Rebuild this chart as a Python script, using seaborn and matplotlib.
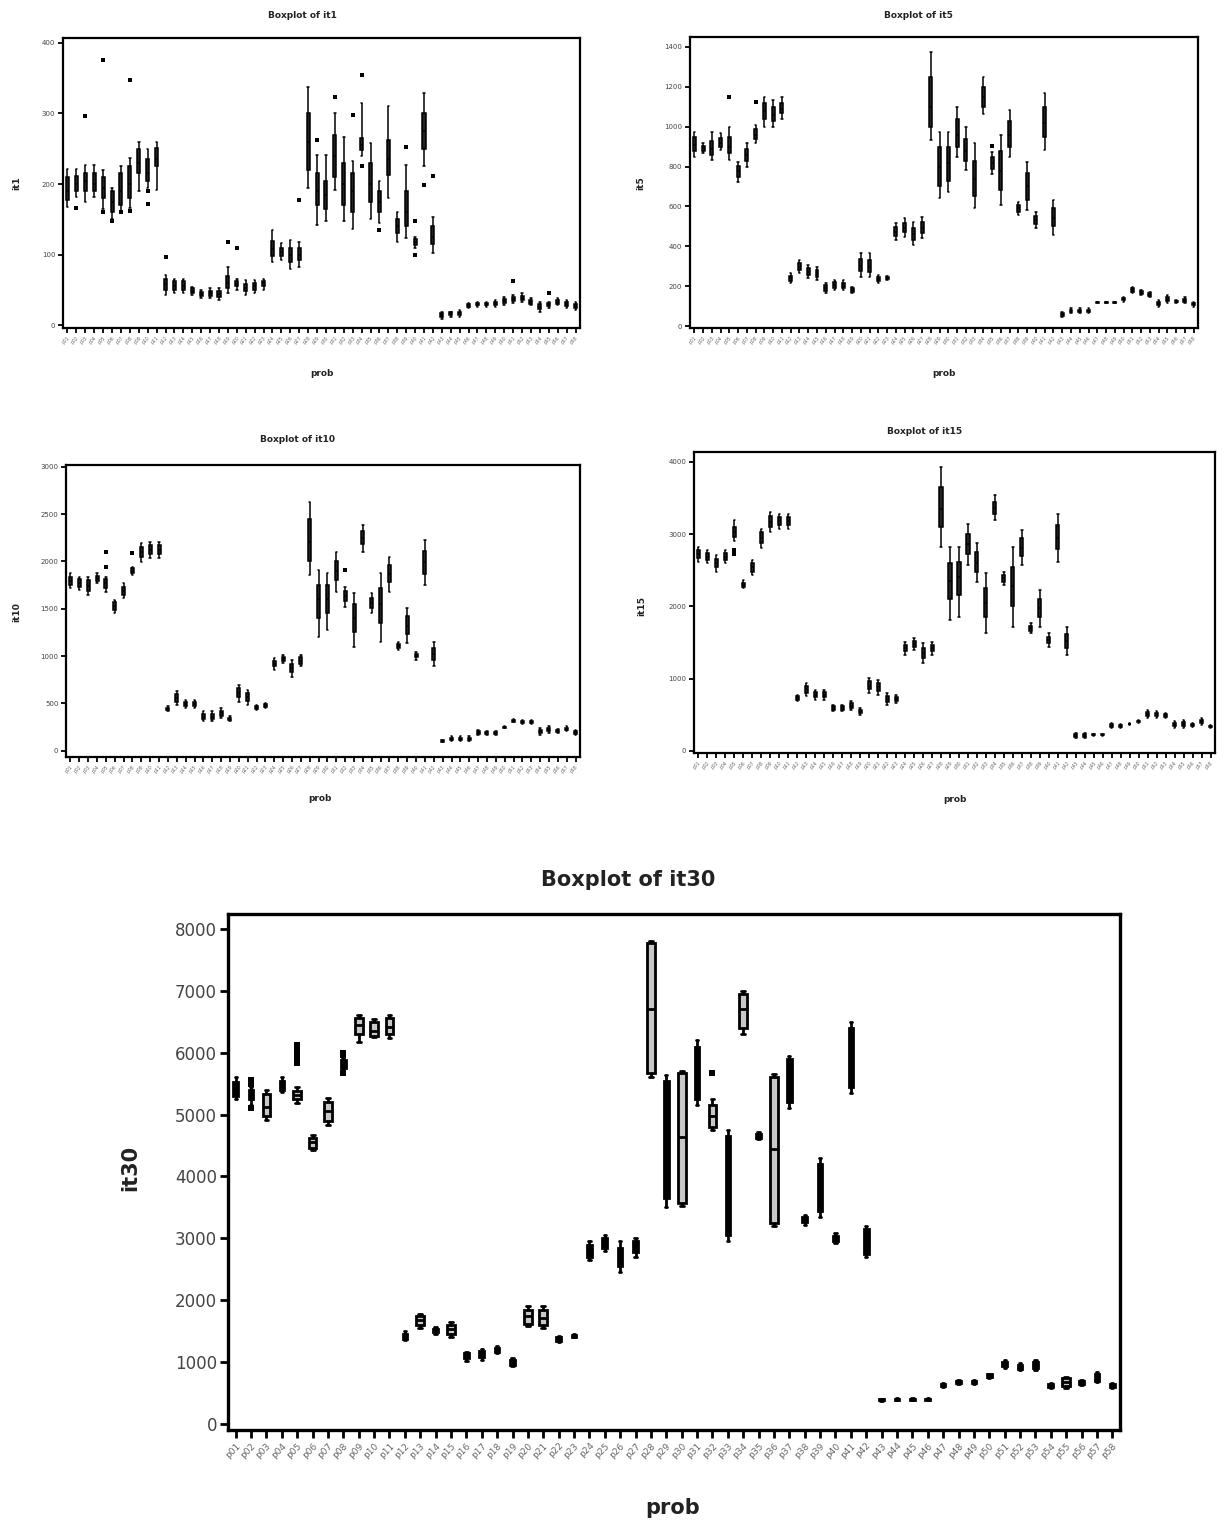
import matplotlib
matplotlib.use("Agg")
import matplotlib.pyplot as plt
import numpy as np
import pandas as pd
import seaborn as sns

sns.set_style("white")
plt.rcParams["font.family"] = ["DejaVu Sans"]

# ---------------- data ----------------
categories = [f"p{i:02d}" for i in range(1, 59)]

# five-number summaries per problem: (low, q1, median, q3, high)
it1_box = [
    (168, 177, 190, 210, 222), (182, 190, 200, 212, 222), (175, 190, 205, 215, 227), (182, 190, 200, 215, 227),
    (165, 180, 195, 210, 220), (150, 160, 175, 190, 195), (160, 170, 190, 215, 225), (166, 180, 200, 225, 237),
    (190, 215, 230, 250, 260), (195, 205, 215, 235, 250), (192, 225, 235, 251, 260), (43, 50, 58, 65, 71),
    (45, 50, 56, 62, 66), (45, 50, 55, 62, 66), (43, 46, 49, 52, 54), (38, 41, 44, 47, 50),
    (38, 41, 45, 49, 52), (36, 40, 44, 48, 52), (45, 52, 60, 70, 83), (50, 55, 58, 63, 66),
    (43, 48, 53, 58, 64), (45, 50, 55, 60, 64), (50, 55, 60, 62, 66), (90, 98, 108, 120, 135),
    (92, 98, 104, 110, 116), (80, 90, 100, 110, 121), (83, 92, 100, 110, 118), (194, 220, 260, 300, 338),
    (142, 170, 190, 215, 241), (147, 165, 185, 205, 241), (192, 210, 240, 270, 300), (147, 170, 200, 230, 267),
    (137, 160, 190, 215, 232), (240, 248, 255, 265, 315), (151, 175, 200, 230, 258), (145, 160, 175, 190, 204),
    (180, 213, 235, 263, 310), (118, 130, 140, 150, 161), (123, 140, 160, 190, 227), (109, 114, 118, 122, 125),
    (225, 250, 275, 300, 329), (102, 115, 125, 140, 154), (9, 12, 14, 17, 19), (12, 14, 16, 18, 19),
    (12, 15, 17, 19, 21), (24, 26, 28, 30, 32), (26, 28, 29, 31, 33), (26, 28, 29, 31, 33),
    (26, 28, 30, 33, 35), (28, 31, 34, 37, 40), (31, 34, 37, 40, 43), (33, 36, 39, 42, 45),
    (28, 30, 33, 36, 38), (19, 23, 26, 30, 33), (24, 27, 29, 31, 33), (28, 30, 33, 36, 38),
    (24, 27, 30, 33, 35), (21, 24, 27, 30, 33),
]
it1_out = {1: [166], 2: [296], 4: [376, 160], 5: [147], 6: [160], 7: [348, 162], 9: [190, 172],
           11: [97], 18: [118], 19: [109], 26: [178], 28: [263], 30: [324], 32: [298],
           33: [355, 225], 35: [135], 38: [253], 39: [147, 99], 40: [199], 41: [211],
           50: [62], 54: [45]}

it5_box = [
    (849, 880, 910, 950, 974), (866, 880, 895, 905, 916), (832, 860, 890, 930, 974), (882, 900, 920, 945, 966),
    (832, 870, 900, 950, 999), (724, 750, 780, 805, 824), (799, 830, 860, 890, 916), (916, 940, 960, 990, 1008),
    (999, 1040, 1080, 1120, 1150), (999, 1030, 1060, 1100, 1133), (1041, 1070, 1090, 1120, 1150), (214, 225, 240, 252, 264),
    (264, 280, 295, 315, 331), (239, 255, 270, 290, 306), (231, 245, 262, 280, 297), (164, 175, 190, 205, 214),
    (180, 192, 205, 220, 231), (180, 190, 200, 215, 231), (164, 172, 180, 190, 197), (247, 275, 300, 335, 364),
    (247, 270, 295, 330, 364), (214, 225, 235, 245, 256), (230, 235, 240, 245, 250), (431, 450, 470, 495, 515),
    (448, 470, 490, 515, 540), (406, 430, 460, 490, 523), (440, 465, 490, 520, 548), (932, 1000, 1100, 1250, 1375),
    (640, 700, 800, 900, 974), (673, 730, 820, 900, 974), (849, 900, 960, 1040, 1100), (782, 830, 880, 940, 999),
    (590, 650, 740, 830, 916), (1066, 1100, 1150, 1200, 1250), (765, 790, 820, 850, 874), (607, 680, 780, 880, 957),
    (849, 900, 960, 1030, 1083), (556, 570, 590, 605, 623), (582, 630, 700, 770, 824), (490, 510, 530, 550, 573),
    (882, 950, 1020, 1100, 1167), (456, 500, 540, 590, 632), (47, 52, 58, 65, 72), (64, 70, 76, 82, 89),
    (64, 70, 76, 82, 89), (64, 70, 76, 82, 89), (114, 116, 118, 120, 122), (114, 116, 118, 120, 122),
    (114, 116, 118, 120, 122), (122, 128, 134, 140, 147), (164, 172, 180, 190, 197), (155, 160, 167, 174, 180),
    (147, 153, 160, 166, 172), (97, 105, 113, 122, 130), (114, 124, 134, 145, 155), (114, 118, 122, 126, 130),
    (114, 122, 130, 138, 147), (97, 103, 110, 116, 122),
]
it5_out = {4: [1150], 7: [1125], 34: [905]}

it10_box = [
    (1716, 1750, 1790, 1840, 1875), (1699, 1730, 1770, 1810, 1840), (1646, 1690, 1740, 1800, 1840), (1769, 1790, 1820, 1850, 1875),
    (1681, 1720, 1770, 1810, 1840), (1453, 1490, 1530, 1570, 1593), (1611, 1650, 1690, 1730, 1769), (1857, 1880, 1900, 1925, 1945),
    (1998, 2050, 2100, 2150, 2191), (2033, 2080, 2120, 2170, 2209), (2033, 2080, 2120, 2170, 2209), (415, 430, 445, 455, 468),
    (485, 520, 560, 600, 626), (450, 470, 490, 515, 538), (450, 470, 490, 515, 538), (310, 340, 360, 390, 415),
    (310, 340, 360, 390, 415), (345, 370, 400, 425, 450), (310, 322, 335, 350, 362), (520, 570, 610, 660, 696),
    (485, 530, 570, 610, 644), (433, 445, 460, 472, 485), (450, 462, 475, 490, 503), (855, 890, 920, 950, 978),
    (925, 945, 970, 990, 1013), (784, 830, 870, 920, 960), (890, 920, 950, 985, 1013), (1857, 2000, 2200, 2450, 2631),
    (1206, 1400, 1600, 1750, 1910), (1277, 1450, 1600, 1750, 1875), (1681, 1800, 1900, 2000, 2103), (1523, 1580, 1630, 1690, 1734),
    (1101, 1250, 1400, 1550, 1664), (2103, 2180, 2250, 2320, 2385), (1453, 1510, 1560, 1610, 1664), (1153, 1350, 1550, 1720, 1875),
    (1681, 1780, 1870, 1960, 2051), (1066, 1090, 1110, 1130, 1153), (1136, 1230, 1320, 1420, 1505), (960, 985, 1005, 1025, 1048),
    (1752, 1870, 1990, 2110, 2226), (890, 960, 1020, 1090, 1153), (88, 95, 102, 109, 116), (98, 110, 125, 138, 151),
    (98, 110, 125, 138, 151), (98, 110, 125, 138, 151), (169, 182, 195, 208, 221), (169, 180, 190, 200, 210),
    (169, 180, 190, 200, 210), (239, 243, 248, 252, 257), (299, 308, 317, 326, 334), (285, 295, 306, 316, 327),
    (285, 295, 306, 316, 327), (169, 185, 204, 222, 239), (186, 205, 222, 240, 257), (190, 200, 210, 220, 230),
    (204, 218, 230, 244, 257), (169, 182, 195, 208, 221),
]
it10_out = {4: [2103, 1945], 7: [2086], 31: [1910]}

it15_box = [
    (2617, 2670, 2720, 2780, 2825), (2594, 2640, 2690, 2740, 2779), (2479, 2540, 2600, 2660, 2710), (2594, 2640, 2690, 2740, 2779),
    (2900, 2960, 3030, 3100, 3190), (2249, 2270, 2300, 2330, 2364), (2433, 2480, 2540, 2600, 2640), (2802, 2880, 2950, 3030, 3078),
    (3032, 3100, 3170, 3250, 3308), (3078, 3120, 3180, 3240, 3285), (3078, 3120, 3180, 3240, 3285), (682, 705, 730, 755, 774),
    (751, 800, 850, 900, 935), (705, 740, 775, 810, 843), (705, 740, 775, 810, 843), (544, 565, 590, 615, 636),
    (544, 565, 590, 615, 636), (567, 595, 625, 655, 682), (498, 520, 545, 570, 590), (797, 850, 900, 960, 1005),
    (774, 830, 880, 935, 981), (636, 680, 720, 760, 797), (660, 690, 715, 745, 774), (1327, 1380, 1420, 1470, 1511),
    (1396, 1440, 1480, 1520, 1558), (1212, 1290, 1350, 1420, 1488), (1327, 1380, 1420, 1470, 1511), (2825, 3100, 3350, 3650, 3930),
    (1811, 2100, 2350, 2600, 2825), (1857, 2150, 2400, 2620, 2825), (2571, 2720, 2860, 3000, 3147), (2341, 2480, 2600, 2750, 2871),
    (1627, 1850, 2050, 2250, 2456), (3193, 3280, 3360, 3450, 3539), (2295, 2340, 2390, 2440, 2479), (1719, 2000, 2280, 2550, 2825),
    (2571, 2700, 2810, 2940, 3055), (1627, 1660, 1695, 1730, 1765), (1719, 1850, 1970, 2100, 2226), (1442, 1490, 1535, 1580, 1627),
    (2617, 2800, 2950, 3120, 3285), (1327, 1420, 1520, 1620, 1719), (175, 192, 210, 228, 244), (175, 192, 210, 228, 244),
    (210, 215, 221, 226, 232), (210, 215, 221, 226, 232), (313, 330, 348, 365, 382), (320, 332, 345, 358, 370),
    (359, 365, 370, 376, 382), (382, 394, 405, 417, 428), (452, 480, 510, 540, 567), (452, 475, 498, 521, 544),
    (452, 470, 487, 504, 521), (313, 336, 359, 382, 405), (313, 342, 370, 400, 428), (330, 345, 360, 375, 390),
    (359, 382, 405, 428, 452), (313, 325, 336, 348, 359),
]
it15_out = {4: [2780, 2720]}

it30_box = [
    (5250, 5300, 5400, 5520, 5600), (5150, 5250, 5330, 5400, 5450), (4920, 4980, 5120, 5330, 5400), (5360, 5400, 5450, 5550, 5600),
    (5190, 5250, 5320, 5380, 5445), (4430, 4460, 4550, 4620, 4670), (4840, 4900, 5060, 5200, 5270), (5720, 5760, 5820, 5880, 5920),
    (6170, 6300, 6450, 6560, 6610), (6250, 6270, 6350, 6500, 6540), (6240, 6300, 6420, 6560, 6610), (1350, 1380, 1430, 1460, 1500),
    (1550, 1600, 1680, 1740, 1780), (1450, 1480, 1510, 1540, 1560), (1400, 1450, 1530, 1600, 1650), (1020, 1060, 1100, 1140, 1170),
    (1040, 1080, 1130, 1180, 1220), (1150, 1170, 1200, 1230, 1260), (940, 960, 1000, 1030, 1060), (1580, 1620, 1750, 1850, 1900),
    (1550, 1600, 1720, 1850, 1900), (1320, 1340, 1370, 1400, 1420), (1400, 1410, 1420, 1440, 1450), (2650, 2700, 2800, 2900, 2950),
    (2800, 2850, 2920, 3000, 3050), (2450, 2550, 2700, 2850, 2950), (2700, 2780, 2850, 2950, 3000), (5600, 5680, 6700, 7770, 7800),
    (3500, 3650, 4600, 5550, 5640), (3520, 3570, 4640, 5670, 5700), (5150, 5250, 5650, 6100, 6200), (4750, 4800, 4980, 5150, 5250),
    (2950, 3050, 3800, 4650, 4750), (6300, 6400, 6700, 6950, 7000), (4600, 4620, 4650, 4680, 4720), (3200, 3250, 4450, 5600, 5650),
    (5100, 5200, 5600, 5900, 5950), (3220, 3260, 3300, 3340, 3380), (3350, 3450, 3800, 4200, 4300), (2920, 2960, 3000, 3040, 3080),
    (5350, 5450, 5900, 6400, 6500), (2700, 2750, 2950, 3150, 3200), (370, 380, 390, 400, 410), (380, 390, 400, 410, 420),
    (380, 390, 400, 410, 420), (380, 390, 400, 410, 420), (600, 615, 630, 645, 660), (650, 665, 680, 695, 710),
    (650, 665, 680, 695, 710), (740, 760, 780, 800, 810), (900, 930, 960, 1000, 1030), (870, 890, 920, 960, 990),
    (870, 900, 950, 1000, 1030), (580, 600, 620, 650, 660), (580, 620, 680, 740, 760), (630, 650, 670, 690, 710),
    (680, 700, 740, 800, 840), (580, 600, 620, 640, 660),
]
it30_out = {1: [5560, 5500, 5100], 4: [5830, 5900, 5980, 6050, 6130], 7: [5670, 5960, 5990], 31: [5670]}
it30_wide = [2, 4, 5, 6, 8, 9, 10, 12, 14, 19, 20, 27, 29, 31, 33, 35, 54]

# ---------------- layout ----------------
W, H = 1227, 1523
fig = plt.figure(figsize=(W / 100, H / 100), dpi=100)


def ax_at(l, t, r, b):
    return fig.add_axes([l / W, 1 - b / H, (r - l) / W, (b - t) / H])


def ftext(x, y, s, **kw):
    fig.text(x / W, 1 - y / H, s, ha="center", va="center", **kw)


def to_frame(stats, keep=None):
    rows = []
    for i, (cat, s) in enumerate(zip(categories, stats)):
        if keep is not None and i not in keep:
            continue
        for v in s:
            rows.append((cat, v))
    return pd.DataFrame(rows, columns=["prob", "value"])


def out_frame(outs):
    rows = [(categories[i], v) for i, vals in outs.items() for v in vals]
    return pd.DataFrame(rows, columns=["prob", "value"])


def draw(ax, stats, outs, ylim, yticks, big=False, wide=None):
    lw = 2.0 if big else 1.1
    common = dict(x="prob", y="value", order=categories, whis=(0, 100),
                  saturation=1, linecolor="black", linewidth=lw, showfliers=False, ax=ax)
    if wide is None:
        sns.boxplot(data=to_frame(stats), width=0.34, color="#222222", **common)
    else:
        narrow = [i for i in range(len(categories)) if i not in wide]
        sns.boxplot(data=to_frame(stats, set(wide)), width=0.5, color="#c8c8c8", **common)
        sns.boxplot(data=to_frame(stats, set(narrow)), width=0.3, color="black", **common)
    of = out_frame(outs)
    sns.stripplot(data=of, x="prob", y="value", order=categories, jitter=False, marker="s",
                  color="black", size=5 if big else 3.2, linewidth=0, ax=ax)
    ax.set_xlim(-0.5, len(categories) - 0.5)
    ax.set_ylim(*ylim)
    ax.set_yticks(yticks)
    ax.set_yticklabels([str(t) for t in yticks], color="#444444", fontsize=12 if big else 5)
    ax.set_xticks(range(len(categories)))
    ax.set_xticklabels(categories, rotation=45, ha="right", rotation_mode="anchor",
                       fontsize=6.5 if big else 3.3, color="#666666")
    ax.set_xlabel("")
    ax.set_ylabel("")
    for sp in ax.spines.values():
        sp.set_visible(True)
        sp.set_color("black")
        sp.set_linewidth(2.4 if big else 1.6)
    ax.tick_params(axis="both", direction="out", length=6 if big else 3.5, width=2 if big else 1.3,
                   color="black", bottom=True, left=True, pad=2)


ax1 = ax_at(63, 38, 580, 328)
draw(ax1, it1_box, it1_out, (-4, 407), [0, 100, 200, 300, 400])
ax5 = ax_at(690, 37, 1198, 328)
draw(ax5, it5_box, it5_out, (-10, 1450), [0, 200, 400, 600, 800, 1000, 1200, 1400])
ax10 = ax_at(66, 465, 580, 757)
draw(ax10, it10_box, it10_out, (-66, 3018), [0, 500, 1000, 1500, 2000, 2500, 3000])
ax15 = ax_at(694, 452, 1215, 753)
draw(ax15, it15_box, it15_out, (-32, 4138), [0, 1000, 2000, 3000, 4000])
ax30 = ax_at(228, 914, 1120, 1430)
draw(ax30, it30_box, it30_out, (-97, 8242), [0, 1000, 2000, 3000, 4000, 5000, 6000, 7000, 8000],
     big=True, wide=it30_wide)

small = dict(fontsize=6.5, fontweight="bold", color="#222222")
ftext(302, 15, "Boxplot of it1", **small)
ftext(918, 15, "Boxplot of it5", **small)
ftext(298, 440, "Boxplot of it10", **small)
ftext(925, 432, "Boxplot of it15", **small)
ftext(17, 183, "it1", rotation=90, **small)
ftext(641, 183, "it5", rotation=90, **small)
ftext(17, 612, "it10", rotation=90, **small)
ftext(642, 606, "it15", rotation=90, **small)
ftext(322, 374, "prob", **small)
ftext(944, 374, "prob", **small)
ftext(320, 798, "prob", **small)
ftext(955, 799, "prob", **small)

big = dict(fontsize=15, fontweight="bold", color="#222222")
ftext(628, 880, "Boxplot of it30", **big)
ftext(130, 1168, "it30", rotation=90, **big)
ftext(673, 1508, "prob", **big)

fig.savefig("out.png", dpi=100)
